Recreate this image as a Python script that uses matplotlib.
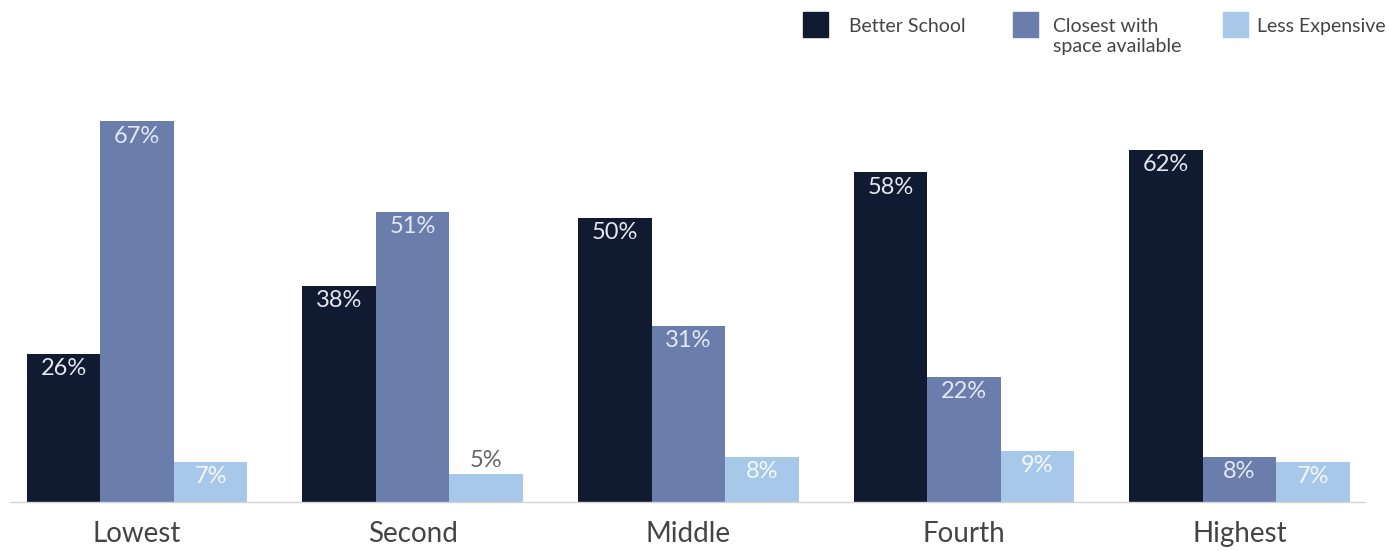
"""
School choice reason by income quintile: grouped bar chart.
"""

import matplotlib
matplotlib.use("Agg")
import matplotlib.pyplot as plt
import numpy as np
from matplotlib.patches import Rectangle

plt.rcParams["font.family"] = ["Lato", "DejaVu Sans"]

# ── Data ───────────────────────────────────────────────────────────────────
categories = ["Lowest", "Second", "Middle", "Fourth", "Highest"]
series_names = ["Better School", "Closest with\nspace available", "Less Expensive"]
better_school = [26, 38, 50, 58, 62]
closest_space = [67, 51, 31, 22, 8]
less_expensive = [7, 5, 8, 9, 7]

colors = ["#101a30", "#6a7dab", "#a7c8e9"]
label_colors = ["#e4e7ee", "#e2e8f5", "#f4f8fd"]

# ── Figure ─────────────────────────────────────────────────────────────────
W, H = 1389, 551
fig = plt.figure(figsize=(W / 100, H / 100), dpi=100)
ax = fig.add_axes([10 / W, 49 / H, 1355 / W, 442 / H])

x = np.arange(len(categories))
width = 0.2667
all_series = [better_school, closest_space, less_expensive]

for i, (vals, col, lcol) in enumerate(zip(all_series, colors, label_colors)):
    pos = x + (i - 1) * width
    bars = ax.bar(pos, vals, width=width, color=col, linewidth=0)
    for b, v in zip(bars, vals):
        cx = b.get_x() + b.get_width() / 2
        if v < 6:
            # too short for the label: put it above the bar
            ax.annotate(f"{v}%", (cx, v), xytext=(0, 2), textcoords="offset points",
                        ha="center", va="bottom", fontsize=17, color="#666666")
        else:
            ax.annotate(f"{v}%", (cx, v), xytext=(0, -3), textcoords="offset points",
                        ha="center", va="top", fontsize=17, color=lcol)

ax.set_xlim(-0.461, 4.455)
ax.set_ylim(0, 77.8)
ax.set_xticks(x)
ax.set_xticklabels(categories, fontsize=20, color="#444444")
ax.tick_params(axis="x", length=0, pad=14)
ax.set_yticks([])
for side in ["top", "right", "left"]:
    ax.spines[side].set_visible(False)
ax.spines["bottom"].set_color("#d4d4d4")
ax.spines["bottom"].set_linewidth(1)

# ── Legend (drawn by hand to match the layout) ─────────────────────────────
legend_box_x = [803, 1013, 1223]
legend_text_x = [849, 1053, 1257]
for bx, tx, name, col in zip(legend_box_x, legend_text_x, series_names, colors):
    fig.patches.append(Rectangle((bx / W, 1 - 37 / H), 25 / W, 25 / H,
                                 transform=fig.transFigure, color=col))
    fig.text(tx / W, 1 - 18 / H, name, fontsize=14, color="#444444",
             va="top", ha="left", linespacing=1.2)

fig.savefig("out.png", dpi=100)
